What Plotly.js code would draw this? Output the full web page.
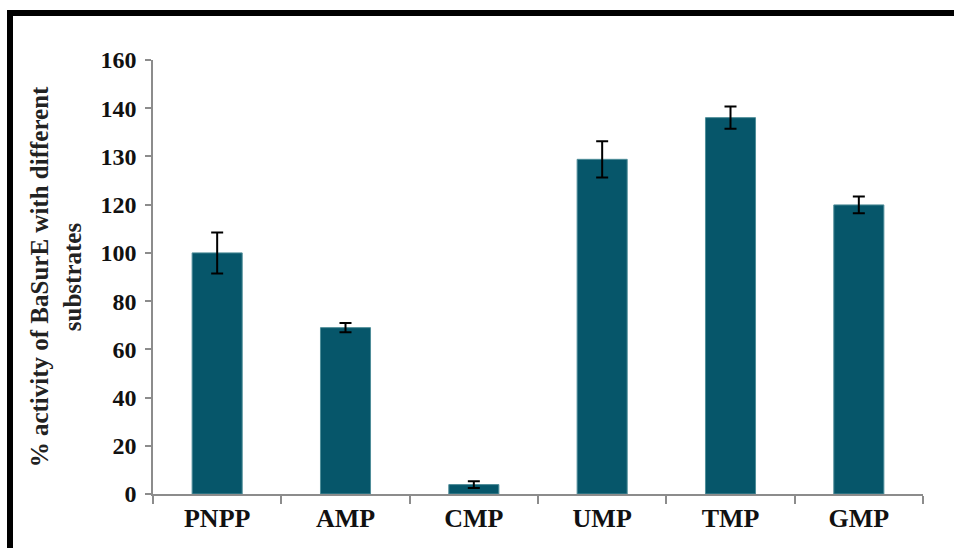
<!DOCTYPE html>
<html>
<head>
<meta charset="utf-8">
<script src="https://cdn.plot.ly/plotly-3.0.1.min.js"></script>
<style>
  html, body { margin: 0; padding: 0; background: #fff; }
  #wrap { position: relative; width: 954px; height: 548px; overflow: hidden; }
  #chart { position: absolute; left: 0; top: 0; width: 954px; height: 548px; }
  #frame { position: absolute; left: 7px; top: 10px; width: 1000px; height: 600px;
           border-top: 6px solid #000; border-left: 6px solid #000; pointer-events: none; }
</style>
</head>
<body>
<div id="wrap">
  <div id="chart"></div>
  <div id="frame"></div>
</div>
<script>
// Substrates (categories)
const substrates = ["PNPP", "AMP", "CMP", "UMP", "TMP", "GMP"];
// Bar heights, read in the chart's linear axis units
const activity = [100.0, 69.0, 3.9, 138.8, 156.1, 119.9];
// Error bar half-lengths
const errors = [8.5, 1.9, 1.4, 7.5, 4.6, 3.5];
// Y tick positions and the tick labels printed on the original figure
const yTickVals = [0, 20, 40, 60, 80, 100, 120, 140, 160, 180];
const yTickText = ["0", "20", "40", "60", "80", "100", "120", "130", "140", "160"];

const serif = "'Liberation Serif', 'Times New Roman', serif";

const trace = {
  type: "bar",
  x: substrates,
  y: activity,
  marker: { color: "#06566a", line: { color: "#4f8d99", width: 1 } },
  error_y: { type: "data", array: errors, visible: true, color: "#000", thickness: 2, width: 6 },
  hoverinfo: "x+y"
};

const layout = {
  width: 954, height: 548,
  margin: { l: 153, r: 31, t: 60, b: 54 },
  paper_bgcolor: "#fff", plot_bgcolor: "#fff",
  showlegend: false,
  bargap: 0.61,
  xaxis: {
    type: "category",
    showgrid: false, zeroline: false,
    showline: true, linecolor: "#8c8c8c", linewidth: 1.5,
    ticks: "outside", tickson: "boundaries", ticklen: 8, tickcolor: "#8c8c8c", tickwidth: 1.5,
    tickfont: { family: serif, size: 26, color: "#111", weight: "bold" }
  },
  yaxis: {
    range: [0, 180],
    showgrid: false, zeroline: false,
    showline: true, linecolor: "#8c8c8c", linewidth: 1.5,
    ticks: "outside", ticklen: 6, tickcolor: "#8c8c8c", tickwidth: 1.5,
    ticklabelstandoff: 4,
    tickmode: "array", tickvals: yTickVals, ticktext: yTickText,
    tickfont: { family: serif, size: 24, color: "#111", weight: "bold" },
    title: {
      text: "% activity of BaSurE with different<br>substrates",
      font: { family: serif, size: 25, color: "#222", weight: "bold" },
      standoff: 12
    }
  }
};

Plotly.newPlot("chart", [trace], layout, { displayModeBar: false });
</script>
</body>
</html>
